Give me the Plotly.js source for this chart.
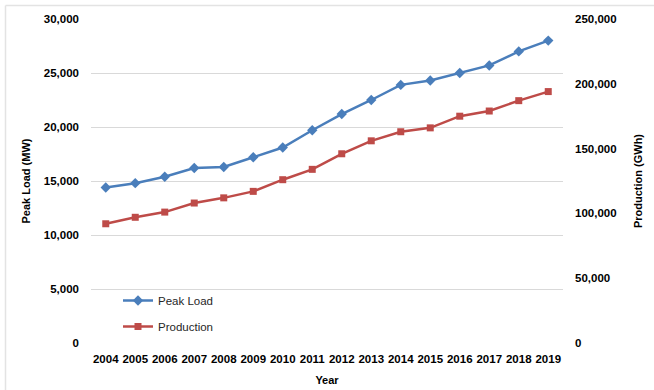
<!DOCTYPE html>
<html>
<head>
<meta charset="utf-8">
<script src="https://cdn.plot.ly/plotly-3.0.1.min.js"></script>
<style>
  html, body { margin: 0; padding: 0; background: #ffffff; }
  #chart { width: 654px; height: 390px; }
</style>
</head>
<body>
<div id="chart"></div>
<script>
// Annual peak load (MW) and electricity production (GWh)
const years = ["2004", "2005", "2006", "2007", "2008", "2009", "2010", "2011",
               "2012", "2013", "2014", "2015", "2016", "2017", "2018", "2019"];
const peakLoad = [14400, 14800, 15400, 16200, 16300, 17200, 18100, 19700,
                  21200, 22500, 23900, 24300, 25000, 25700, 27000, 28000];
const production = [92000, 97000, 101000, 108000, 112000, 117000, 126000, 134000,
                    146000, 156000, 163000, 166000, 175000, 179000, 187000, 194000];
const leftTicks = [0, 5000, 10000, 15000, 20000, 25000, 30000];
const rightTicks = [0, 50000, 100000, 150000, 200000, 250000];

const fmt = v => v.toLocaleString("en-US");

const W = 654, H = 390;
const M = { l: 91, r: 91, t: 19, b: 47 };
const pw = W - M.l - M.r, ph = H - M.t - M.b;
const px = x => (x - M.l) / pw;          // pixel -> paper x
const py = y => (H - M.b - y) / ph;      // pixel -> paper y

const FONT = "Liberation Sans, Arial, sans-serif";
const BLUE = "#4a7ebb";
const RED = "#be4b48";
const tickFont = { family: FONT, size: 11.5, color: "#000000", weight: "bold" };
const titleFont = { family: FONT, size: 11, color: "#000000", weight: "bold" };

const traces = [
  {
    x: years, y: peakLoad, name: "Peak Load", type: "scatter", mode: "lines+markers",
    yaxis: "y", legendgroup: "a",
    line: { color: BLUE, width: 2.5 },
    marker: { symbol: "diamond", size: 8, color: BLUE }
  },
  {
    x: years, y: production, name: "Production", type: "scatter", mode: "lines+markers",
    yaxis: "y2", legendgroup: "b",
    line: { color: RED, width: 2.5 },
    marker: { symbol: "square", size: 7, color: RED }
  }
];

const layout = {
  width: W, height: H,
  margin: M,
  paper_bgcolor: "#ffffff",
  plot_bgcolor: "#ffffff",
  font: { family: FONT, size: 11, color: "#000000" },
  showlegend: true,
  legend: {
    x: px(118), y: py(286), xanchor: "left", yanchor: "top",
    bgcolor: "rgba(0,0,0,0)",
    font: { family: FONT, size: 11.5, color: "#262626" },
    traceorder: "grouped", tracegroupgap: 7
  },
  xaxis: {
    type: "category",
    range: [-0.5, years.length - 0.5],
    showgrid: false, zeroline: false, showline: false, ticks: "",
    ticklabelstandoff: 7,
    tickfont: tickFont,
    title: { text: "Year", font: titleFont, standoff: 12 },
    fixedrange: true
  },
  yaxis: {
    range: [0, 30000],
    tickvals: leftTicks, ticktext: leftTicks.map(fmt),
    showgrid: true, gridcolor: "#d9d9d9", gridwidth: 1,
    zeroline: false, showline: false, ticks: "",
    ticklabelstandoff: 11,
    tickfont: tickFont,
    title: { text: "Peak Load (MW)", font: titleFont, standoff: 10 },
    fixedrange: true
  },
  yaxis2: {
    overlaying: "y", side: "right",
    range: [0, 250000],
    tickvals: rightTicks, ticktext: rightTicks.map(fmt),
    showgrid: false, zeroline: false, showline: false, ticks: "",
    ticklabelstandoff: 11,
    tickfont: tickFont,
    title: { text: "Production (GWh)", font: titleFont, standoff: 18 },
    fixedrange: true
  },
  shapes: [
    // outer chart frame (top and left edges)
    { type: "line", xref: "paper", yref: "paper", x0: px(5.5), x1: px(654), y0: py(5.5), y1: py(5.5),
      line: { color: "#e3e3e3", width: 1.5 } },
    { type: "line", xref: "paper", yref: "paper", x0: px(5.5), x1: px(5.5), y0: py(5.5), y1: py(390),
      line: { color: "#e3e3e3", width: 1.5 } }
  ]
};

Plotly.newPlot("chart", traces, layout, { displayModeBar: false, staticPlot: true });
</script>
</body>
</html>
